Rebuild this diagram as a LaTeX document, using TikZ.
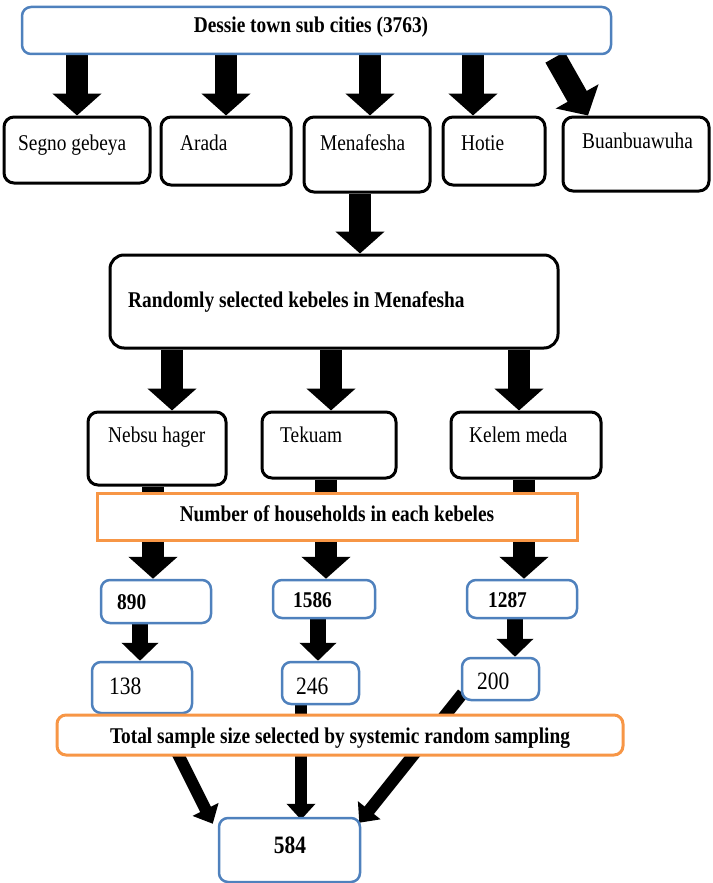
\documentclass[tikz,border=0pt]{standalone}
\usepackage{fontspec}
\setmainfont{Liberation Serif}[FakeStretch=0.86]
\usetikzlibrary{arrows.meta,calc}
\pgfdeclarelayer{bg}
\pgfsetlayers{bg,main}
\definecolor{bblue}{RGB}{79,129,189}
\definecolor{borange}{RGB}{247,150,70}
\tikzset{
  bluebox/.style={draw=bblue, line width=2.5pt, rounded corners=9pt, fill=white, inner sep=0pt},
  blackbox/.style={draw=black, line width=3pt, rounded corners=10pt, fill=white, inner sep=0pt},
  orangebox/.style={draw=borange, line width=3pt, fill=white, inner sep=0pt},
  txt/.style={font=\fontsize{22.5}{25}\selectfont, inner sep=0pt, anchor=base west},
  btxt/.style={font=\fontsize{22.5}{25}\selectfont\bfseries, inner sep=0pt, anchor=base west},
  bigtxt/.style={font=\fontsize{25}{28}\selectfont, inner sep=0pt, anchor=base west},
  bigarrow/.style={line width=22pt, -{Triangle[width=48pt,length=22pt]}},
  midarrow/.style={line width=16pt, -{Triangle[width=36pt,length=18pt]}},
  thinarrow/.style={line width=12pt, -{Triangle[width=28pt,length=16pt]}},
}
\begin{document}
\begin{tikzpicture}[x=1pt,y=-1pt]
\useasboundingbox (0,0) rectangle (712,883);
% boxes
\node[bluebox, minimum width=589pt, minimum height=47pt] (top) at (316.5,30.5) {};
\node[blackbox, minimum width=146pt, minimum height=66pt] (segno) at (77,150) {};
\node[blackbox, minimum width=130pt, minimum height=68pt] (arada) at (226,151) {};
\node[blackbox, minimum width=126pt, minimum height=75pt] (mena) at (367,154.5) {};
\node[blackbox, minimum width=102pt, minimum height=68pt] (hotie) at (494,151) {};
\node[blackbox, minimum width=146pt, minimum height=74pt] (buan) at (636,154) {};
\node[blackbox, rounded corners=14pt, minimum width=448pt, minimum height=93pt] (random) at (334,301.5) {};
\node[blackbox, minimum width=138pt, minimum height=73pt] (nebsu) at (157,448.5) {};
\node[blackbox, minimum width=134pt, minimum height=66pt] (tekuam) at (329,445) {};
\node[blackbox, minimum width=150pt, minimum height=66pt] (kelem) at (526,445) {};
\node[orangebox, minimum width=480pt, minimum height=47pt] (hh) at (337,516.5) {};
\node[bluebox, minimum width=110pt, minimum height=43pt] (n890) at (156,601.5) {};
\node[bluebox, minimum width=102pt, minimum height=38pt] (n1586) at (324,599) {};
\node[bluebox, minimum width=110pt, minimum height=38pt] (n1287) at (522,599) {};
\node[bluebox, minimum width=100pt, minimum height=51pt] (n138) at (142,687.5) {};
\node[bluebox, minimum width=77pt, minimum height=42pt] (n246) at (320.5,683) {};
\node[bluebox, minimum width=77pt, minimum height=42pt] (n200) at (500.5,679) {};
\node[orangebox, rounded corners=9pt, minimum width=566pt, minimum height=40pt] (total) at (340,735) {};
\node[bluebox, minimum width=141pt, minimum height=64pt] (n584) at (289.5,850) {};
% texts
\node[btxt, anchor=base] (ttop) at (311,33) {Dessie town sub cities (3763)};
\node[txt] (tsegno) at (18,150) {Segno gebeya};
\node[txt] (tarada) at (180,150) {Arada};
\node[txt] (tmena) at (320,150) {Menafesha};
\node[txt] (thotie) at (461,150) {Hotie};
\node[txt] (tbuan) at (582,148) {Buanbuawuha};
\node[btxt] (trandom) at (128,307) {Randomly selected kebeles in Menafesha};
\node[txt] (tnebsu) at (108,442) {Nebsu hager};
\node[txt] (ttekuam) at (280,442) {Tekuam};
\node[txt] (tkelem) at (469,442) {Kelem meda};
\node[btxt, anchor=base] (thh) at (337,521) {Number of households in each kebeles};
\node[btxt] (t890) at (117,609) {890};
\node[btxt] (t1586) at (293,607) {1586};
\node[btxt] (t1287) at (488,607) {1287};
\node[bigtxt] (t138) at (109,694) {138};
\node[bigtxt] (t246) at (296,694) {246};
\node[bigtxt] (t200) at (477,689) {200};
\node[btxt, anchor=base] (ttotal) at (340,743) {Total sample size selected by systemic random sampling};
\node[bigtxt, font=\fontsize{25}{28}\selectfont\bfseries, anchor=base] (t584) at (290,853) {584};
% connectors
\coordinate (ma) at ($(mena.north)+(3,0)$);
\coordinate (ha) at ($(hotie.north)+(-21,0)$);
\coordinate (bs) at ($(top.south)+(238.5,2)$);
\coordinate (be) at ($(buan.north)+(-48,0)$);
\coordinate (rm) at ($(mena.south)+(-7,0)$);
\coordinate (rn) at ($(nebsu.north)+(15,0)$);
\coordinate (rt) at ($(tekuam.north)+(2,0)$);
\coordinate (rk) at ($(kelem.north)+(-7,0)$);
\coordinate (a890) at ($(n890.north)+(-3,0)$);
\coordinate (a1586) at ($(n1586.north)+(2,0)$);
\coordinate (a1287) at ($(n1287.north)+(2,0)$);
\coordinate (a138) at ($(n138.north)+(-2,0)$);
\coordinate (a246) at ($(n246.north)+(-2.5,0)$);
\coordinate (a200) at ($(n200.north)+(14.5,0)$);
\coordinate (s138) at ($(n138.south)+(16,0)$);
\coordinate (e138) at ($(n584.north west)+(-5,7)$);
\coordinate (s246) at ($(n246.south)+(-19.5,0)$);
\coordinate (e246) at ($(n584.north)+(11.5,3)$);
\coordinate (s200) at ($(n200.south west)+(2,-8)$);
\coordinate (e200) at ($(n584.north east)+(-2,6)$);
\begin{pgfonlayer}{bg}
\draw[bigarrow] (top.south -| segno.north) -- (segno.north);
\draw[bigarrow] (top.south -| arada.north) -- (arada.north);
\draw[bigarrow] (top.south -| ma) -- (ma);
\draw[bigarrow] (top.south -| ha) -- (ha);
\draw[bigarrow] (bs) -- (be);
\draw[bigarrow] (rm) -- (random.north -| rm);
\draw[bigarrow] (random.south -| rn) -- (rn);
\draw[bigarrow] (random.south -| rt) -- (rt);
\draw[bigarrow] (random.south -| rk) -- (rk);
\draw[bigarrow] (nebsu.south -| a890) -- (a890);
\draw[bigarrow] (tekuam.south -| a1586) -- (a1586);
\draw[bigarrow] (kelem.south -| a1287) -- (a1287);
\draw[midarrow] (n890.south -| a138) -- (a138);
\draw[midarrow] (n1586.south -| a246) -- (a246);
\draw[midarrow] (n1287.south -| a200) -- (a200);
\draw[thinarrow] (s138) -- (e138);
\draw[thinarrow] (s246) -- (s246 |- e246);
\draw[thinarrow] (s200) -- (e200);
\end{pgfonlayer}
\end{tikzpicture}
\end{document}
